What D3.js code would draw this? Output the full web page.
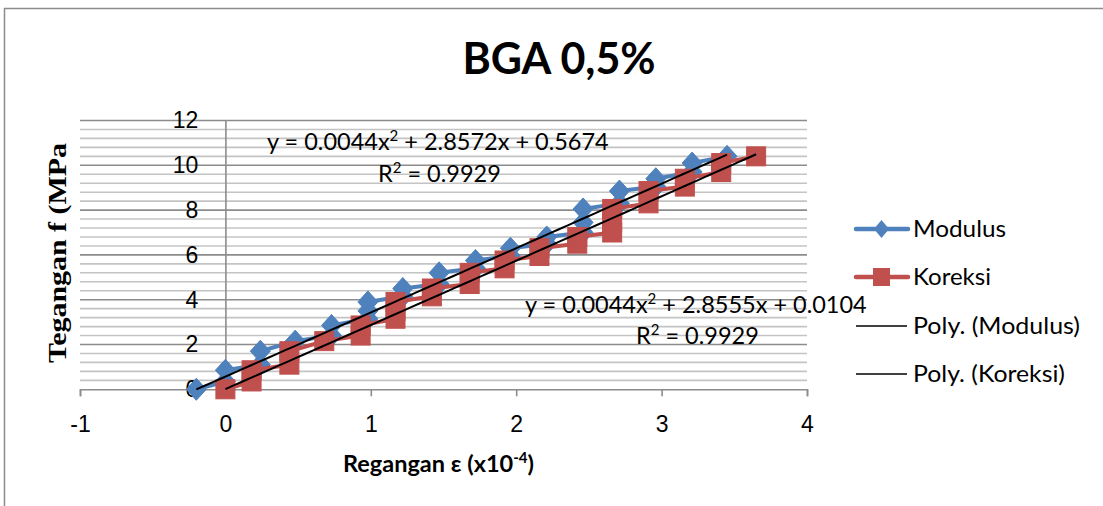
<!DOCTYPE html>
<html>
<head>
<meta charset="utf-8">
<script src="https://cdn.jsdelivr.net/npm/d3@7"></script>
<style>
  html, body { margin: 0; padding: 0; background: #ffffff; }
  svg { display: block; font-family: Lato, "Noto Sans", sans-serif; }
  text { fill: #000; }
</style>
</head>
<body>
<svg id="chart" width="1103" height="506"></svg>
<script>
// ---- data ----------------------------------------------------------------
// Strain readings (x10^-4) and stress (MPa)
const modulusX = [-0.2, 0.0, 0.0, 0.24, 0.24, 0.48, 0.73, 0.73, 0.98, 0.98, 0.98,
                  1.22, 1.22, 1.47, 1.47, 1.72, 1.72, 1.96, 1.96, 2.21, 2.21,
                  2.46, 2.46, 2.46, 2.71, 2.71, 2.96, 2.96, 3.21, 3.21, 3.45];
const koreksiX = [0.0, 0.18, 0.18, 0.44, 0.44, 0.68, 0.93, 0.93, 1.17, 1.17, 1.17,
                  1.42, 1.42, 1.68, 1.68, 1.92, 1.92, 2.16, 2.16, 2.42, 2.42,
                  2.66, 2.66, 2.66, 2.91, 2.91, 3.16, 3.16, 3.41, 3.41, 3.65];
const stressF  = [0.0, 0.35, 0.85, 1.1, 1.7, 2.15, 2.4, 2.85, 3.15, 3.5, 3.9,
                  4.15, 4.5, 4.7, 5.2, 5.4, 5.75, 5.95, 6.3, 6.5, 6.8,
                  7.0, 7.45, 8.05, 8.3, 8.85, 9.05, 9.4, 9.7, 10.1, 10.4];

// Polynomial (order 2) trendline coefficients [a, b, c] for y = ax^2 + bx + c
const polyModulus = [0.0044, 2.8572, 0.5674];
const polyKoreksi = [0.0044, 2.8555, 0.0104];
const rSquared    = [0.9929, 0.9929];

const xTickValues = [-1, 0, 1, 2, 3, 4];
const yTickValues = [0, 2, 4, 6, 8, 10, 12];
const seriesNames = ["Modulus", "Koreksi", "Poly. (Modulus)", "Poly. (Koreksi)"];

const chartTitle = "BGA 0,5%";
const xTitle = "Regangan ε (x10";
const yTitle = "Tegangan f (MPa";

// ---- layout --------------------------------------------------------------
const svg = d3.select("#chart");
const BLUE = "#4F81BD", RED = "#C0504D";
const SERIF = "'Liberation Serif', 'Times New Roman', serif";

const x = d3.scaleLinear().domain([-1, 4]).range([80, 807]);
const y = d3.scaleLinear().domain([0, 12]).range([389.3, 120.5]);

// outer chart border (left and top edges)
svg.append("path")
  .attr("d", "M4.5,506 V8.5 H1103")
  .attr("fill", "none").attr("stroke", "#8c8c8c").attr("stroke-width", 1.5);

// title
svg.append("text")
  .attr("x", 559).attr("y", 74)
  .attr("text-anchor", "middle")
  .attr("font-size", 43).attr("font-weight", "bold")
  .text(chartTitle);

// ---- gridlines -----------------------------------------------------------
const minorStep = 0.4;
const minorVals = d3.range(0, 31).map(i => +(i * minorStep).toFixed(2))
  .filter(v => Math.abs(v / 2 - Math.round(v / 2)) > 1e-6);

const grid = svg.append("g");
grid.selectAll("line.minor").data(minorVals).join("line")
  .attr("class", "minor")
  .attr("x1", x(-1)).attr("x2", x(4))
  .attr("y1", d => y(d)).attr("y2", d => y(d))
  .attr("stroke", "#c4c4c4").attr("stroke-width", 1.6);
grid.selectAll("line.major").data(yTickValues.filter(v => v > 0)).join("line")
  .attr("class", "major")
  .attr("x1", x(-1)).attr("x2", x(4))
  .attr("y1", d => y(d)).attr("y2", d => y(d))
  .attr("stroke", "#8c8c8c").attr("stroke-width", 1.6);

// ---- axes ----------------------------------------------------------------
const yAxis = svg.append("g")
  .attr("transform", `translate(${x(0)},0)`)
  .call(d3.axisLeft(y).tickValues(yTickValues).tickFormat(d3.format("d"))
    .tickSize(0).tickPadding(27));
yAxis.select(".domain").attr("stroke", "#8c8c8c").attr("stroke-width", 1.6);
yAxis.selectAll("text").attr("font-size", 23).attr("font-family", null).attr("fill", "#000");

const xAxis = svg.append("g")
  .attr("transform", `translate(0,${y(0)})`)
  .call(d3.axisBottom(x).tickValues(xTickValues).tickFormat(d3.format("d"))
    .tickSizeInner(7).tickSizeOuter(7).tickPadding(19));
xAxis.select(".domain").attr("stroke", "#8c8c8c").attr("stroke-width", 1.6);
xAxis.selectAll(".tick line").attr("stroke", "#8c8c8c").attr("stroke-width", 1.6);
xAxis.selectAll("text").attr("font-size", 23).attr("font-family", null).attr("fill", "#000")
  .text(d => d < 0 ? "-" + Math.abs(d) : d);

// axis titles
const xt = svg.append("text")
  .attr("x", 343).attr("y", 472)
  .attr("font-size", 23.5).attr("font-weight", "bold");
xt.append("tspan").text(xTitle);
xt.append("tspan").attr("font-size", 15).attr("dy", -9).text("-4");
xt.append("tspan").attr("dy", 9).text(")");

svg.append("text")
  .attr("transform", "translate(66,363) rotate(-90)")
  .style("font-family", SERIF)
  .attr("font-size", 25).attr("font-weight", "bold")
  .attr("textLength", 220).attr("lengthAdjust", "spacingAndGlyphs")
  .text(yTitle);

// ---- series --------------------------------------------------------------
const modulusData = modulusX.map((v, i) => ({ x: v, y: stressF[i] }));
const koreksiData = koreksiX.map((v, i) => ({ x: v, y: stressF[i] }));

const line = d3.line().x(d => x(d.x)).y(d => y(d.y));
const diamond = (s) => `M0,${-s.h} L${s.w},0 L0,${s.h} L${-s.w},0 Z`;
const diamondShape = { w: 10, h: 11 };

function drawSeries(data, color, kind) {
  const g = svg.append("g");
  g.append("path").datum(data)
    .attr("d", line).attr("fill", "none")
    .attr("stroke", color).attr("stroke-width", 4)
    .attr("stroke-linejoin", "round").attr("stroke-linecap", "round");
  if (kind === "diamond") {
    g.selectAll("path.m").data(data).join("path")
      .attr("class", "m")
      .attr("transform", d => `translate(${x(d.x)},${y(d.y)})`)
      .attr("d", diamond(diamondShape))
      .attr("fill", color).attr("stroke", color).attr("stroke-width", 1);
  } else {
    g.selectAll("rect.m").data(data).join("rect")
      .attr("class", "m")
      .attr("x", d => x(d.x) - 9.5).attr("y", d => y(d.y) - 9.5)
      .attr("width", 19).attr("height", 19)
      .attr("fill", color).attr("stroke", color).attr("stroke-width", 1);
  }
}
drawSeries(modulusData, BLUE, "diamond");
drawSeries(koreksiData, RED, "square");

// ---- polynomial trendlines ----------------------------------------------
function trend(coef, xs) {
  const [a, b, c] = coef;
  const lo = d3.min(xs), hi = d3.max(xs);
  const pts = d3.range(0, 61).map(i => {
    const xv = lo + (hi - lo) * i / 60;
    return { x: xv, y: a * xv * xv + b * xv + c };
  });
  svg.append("path").datum(pts)
    .attr("d", line).attr("fill", "none")
    .attr("stroke", "#000").attr("stroke-width", 2);
}
trend(polyModulus, modulusX);
trend(polyKoreksi, koreksiX);

// ---- trendline equations -------------------------------------------------
function equation(coef, r2, px, py, rx, ry) {
  const [a, b, c] = coef;
  const t = svg.append("text").attr("x", px).attr("y", py).attr("font-size", 23.5);
  t.append("tspan").text(`y = ${a.toFixed(4)}x`);
  t.append("tspan").attr("font-size", 15).attr("dy", -9).text("2");
  t.append("tspan").attr("dy", 9).text(` + ${b.toFixed(4)}x + ${c.toFixed(4)}`);
  const r = svg.append("text").attr("x", rx).attr("y", ry).attr("font-size", 23.5);
  r.append("tspan").text("R");
  r.append("tspan").attr("font-size", 15).attr("dy", -9).text("2");
  r.append("tspan").attr("dy", 9).text(` = ${r2.toFixed(4)}`);
}
equation(polyModulus, rSquared[0], 267, 150, 378, 182);
equation(polyKoreksi, rSquared[1], 525, 313, 636, 344);

// ---- legend --------------------------------------------------------------
const legendY = [229, 277, 326, 374];
const legendWidths = [93, 78, 167, 152];
const lg = svg.append("g");
seriesNames.forEach((name, i) => {
  const cy = legendY[i];
  if (i < 2) {
    const col = i === 0 ? BLUE : RED;
    lg.append("line").attr("x1", 856).attr("x2", 908).attr("y1", cy).attr("y2", cy)
      .attr("stroke", col).attr("stroke-width", 4.5).attr("stroke-linecap", "round");
    if (i === 0) {
      lg.append("path").attr("transform", `translate(881.5,${cy})`)
        .attr("d", diamond({ w: 7.5, h: 9 })).attr("fill", col);
    } else {
      lg.append("rect").attr("x", 873).attr("y", cy - 9).attr("width", 17).attr("height", 18)
        .attr("fill", col);
    }
  } else {
    lg.append("line").attr("x1", 856).attr("x2", 907).attr("y1", cy).attr("y2", cy)
      .attr("stroke", "#000").attr("stroke-width", 1.6);
  }
  lg.append("text").attr("x", 913).attr("y", cy + 8).attr("font-size", 23.5)
    .attr("textLength", legendWidths[i]).attr("lengthAdjust", "spacingAndGlyphs")
    .text(name);
});
</script>
</body>
</html>
